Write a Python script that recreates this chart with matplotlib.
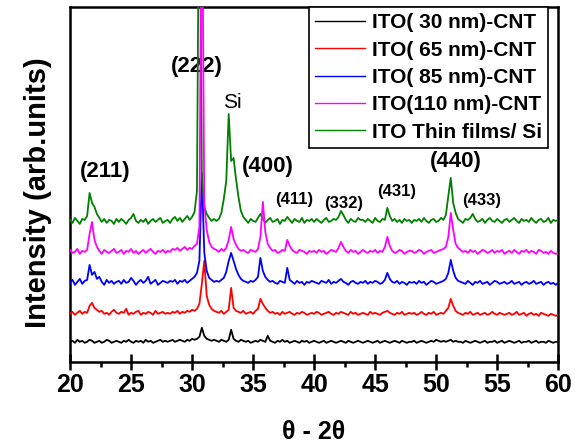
import numpy as np
import matplotlib
matplotlib.use("Agg")
import matplotlib.pyplot as plt
from matplotlib.ticker import MultipleLocator

plt.rcParams['font.family'] = ['Liberation Sans', 'DejaVu Sans']

# 2-theta grid, 0.2 deg steps (201 points)
two_theta = np.linspace(20, 60, 201)

# intensities above each pattern's own baseline (arb. units)
ito_30 = [0, 1, -1, 2, 0, 1, -1, 0, 2, 1, -1, 0, 1, -1, 0, 2, 1, -1, 0, 1,
          0, -1, 1, 0, 2, 0, -1, 1, 0, 1, -1, 2, 0, 1, -1, 0, 1, 2, 0, 1,
          0, 1, 2, 0, 1, 2, 1, 0, 2, 1, 3, 2, 3, 5, 14, 6, 3, 2, 1, 2,
          1, 0, 2, 1, 0, 2, 12, 3, 1, 0, 2, 1, 0, 1, -1, 0, 1, 0, 2, 1,
          0, 6, 1, 0, -1, 1, 0, 2, 0, 1, -1, 0, 1, 0, -1, 1, 0, 1, -1, 0,
          1, 0, -1, 0, 1, -1, 0, 1, 0, -1, 0, 1, 0, -1, 1, 0, -1, 0, 1, 0,
          -1, 0, 1, 0, -1, 0, 1, -1, 0, 1, 0, -1, 0, 1, 0, -1, 1, 0, -1, 0,
          0, 1, -1, 0, 1, 0, -1, 0, 1, 0, 2, 1, 0, 1, 0, 1, 2, 0, 1, 0,
          0, -1, 1, 0, -1, 0, 1, 0, -1, 0, 1, -1, 0, 0, 1, -1, 0, 1, -1, 0,
          1, 0, -1, 0, 1, -1, 0, 0, 1, -1, 0, 1, -1, 0, 0, -1, 1, 0, -1, 0,
          0]
ito_65 = [0, 2, -1, 1, 3, 0, 2, 1, 8, 11, 6, 4, 2, 3, 0, 1, -1, 2, 4, 1,
          0, 2, 1, 5, -1, 1, 0, 2, 3, -1, 1, 0, 2, 1, -1, 3, 0, 1, 2, 0,
          1, 0, 2, 1, 3, 0, 2, 1, 3, 2, 4, 3, 5, 10, 30, 53, 18, 9, 5, 3,
          2, 1, 3, 0, 2, 4, 26, 6, 3, 2, 1, 3, 0, 1, 2, 0, 3, 5, 15, 10,
          6, 3, 1, 2, 0, 1, -1, 2, 0, 1, 2, 0, -1, 1, 0, 2, 1, -1, 0, 1,
          0, 2, 1, -1, 0, 1, 2, 0, -1, 1, 0, 2, 1, 0, -1, 2, 0, 1, -1, 0,
          1, 0, -1, 2, 0, 1, 0, -1, 1, 2, 3, 1, 0, -1, 1, 0, 2, -1, 0, 1,
          0, 1, -1, 0, 2, 0, -1, 1, 0, 2, -1, 0, 1, 0, 3, 6, 15, 8, 3, 1,
          0, -1, 1, 0, 2, -1, 0, 1, -1, 0, 1, -1, 0, 2, 0, -1, 1, 0, -1, 0,
          1, -1, 0, 2, -1, 0, 1, -2, 0, 1, -1, 0, -2, 1, 0, -1, -2, 0, -1, -2,
          -1]
ito_85 = [0, 3, -2, 1, 4, -1, 2, 3, 18, 8, 11, 4, 6, 1, -2, 3, 0, 2, -1, 1,
          2, -1, 3, 0, 1, 5, 2, -2, 1, 3, 0, 2, 6, -1, 1, 3, -2, 0, 2, 1,
          0, 2, 1, 3, -1, 2, 1, 3, 0, 2, 4, 6, 10, 22, 110, 30, 12, 5, 3, 1,
          2, 1, 3, 5, 11, 22, 30, 22, 14, 8, 4, 2, 1, 0, 2, 1, 3, 6, 25, 12,
          6, 3, 1, 2, 0, -1, 2, 1, 0, 15, 3, 1, -1, 2, 0, 1, -2, 1, 0, 2,
          1, 0, -1, 2, 1, 0, 3, -1, 1, 0, 2, 4, 1, 0, -2, 1, 2, 0, -1, 1,
          0, 2, -1, 1, 0, 2, 1, -1, 0, 3, 10, 4, 1, 0, 2, -1, 1, 0, -2, 1,
          0, 1, -1, 2, 0, 1, -2, 0, 2, 1, -1, 0, 1, 2, 4, 10, 23, 12, 5, 2,
          1, 0, -1, 2, 0, -2, 1, 0, 2, -1, 0, 1, -2, 0, 2, 1, -1, 0, 1, -1,
          0, 2, -1, 0, 1, -2, 0, 1, -1, 0, 2, -1, 0, 1, -2, 0, 1, -1, 0, -2,
          0]
ito_110 = [2, -1, 0, 3, -2, 1, 0, 2, 18, 30, 12, 5, 1, -2, 2, 0, -1, 1, 3, -1,
           0, 2, -2, 1, 0, 3, -1, 1, -2, 0, 2, -1, 1, 3, 0, -2, 1, 0, 2, -1,
           1, 0, 3, 2, 4, 1, 3, 5, 2, 4, 3, 6, 8, 25, 400, 48, 22, 10, 5, 3,
           2, 0, 3, 1, 4, 12, 25, 13, 7, 3, 1, 2, 0, -1, 2, 1, 0, 3, 15, 50,
           20, 8, 4, 1, 2, -1, 0, 2, 1, 12, 6, 2, 0, -1, 2, 1, 0, -2, 1, 0,
           1, -1, 2, 0, 1, -2, 0, 2, 1, 0, 4, 10, 5, 1, -1, 2, 0, 1, -2, 0,
           2, 0, -1, 1, 0, 2, -1, 1, 0, 5, 15, 6, 1, -1, 0, 2, 1, -2, 0, 1,
           1, -1, 0, 2, 1, -2, 0, 1, 2, -1, 0, 1, 2, 3, 5, 15, 39, 22, 8, 4,
           2, 0, 1, -1, 2, 0, 1, -2, 0, 2, 1, -1, 0, 2, -1, 1, 0, 2, -2, 0,
           1, -1, 2, 0, -2, 1, 0, 2, -1, 1, 0, -2, 2, 1, -1, 0, -2, 1, -1, -2,
           -1]
ito_si = [1, -2, 3, 0, -3, 2, 1, 5, 28, 18, 14, 7, 3, -1, 2, -2, 1, 0, -3, 2,
          -1, 2, 0, -3, 1, 3, 7, 0, -2, 1, -1, 2, -3, 0, 2, -1, 1, 3, -2, 0,
          1, -2, 2, 4, 0, 3, -1, 2, 5, 1, 4, 9, 30, 400, 45, 14, 7, 3, 0, 2,
          0, 2, 8, 22, 40, 107, 60, 63, 42, 24, 10, 4, 1, -2, 2, 0, -1, 3, 7, 2,
          -2, 1, 3, -1, 0, 2, -3, 1, 0, 4, 1, -2, 2, 0, -1, 3, -2, 1, 0, 2,
          -1, 2, 0, -2, 1, 3, -1, 0, 2, 1, 4, 10, 6, 1, -2, 2, 0, -1, 3, 1,
          1, -1, 2, 0, -2, 3, 0, -1, 2, 1, 13, 5, 0, 2, -1, 1, -2, 2, 0, 1,
          -2, 1, 0, 2, -1, 3, 0, -2, 1, 2, -1, 0, 3, 1, 6, 25, 43, 18, 8, 2,
          0, -2, 2, 1, 3, 7, 2, -1, 0, 2, -2, 1, 3, 0, -1, 2, 0, -2, 1, 2,
          -1, 1, 3, 0, -2, 2, 0, 1, -1, 3, 0, -2, 1, 2, -1, 0, 3, -2, 1, 0,
          1]

series = [ito_30, ito_65, ito_85, ito_110, ito_si]
labels = ['ITO( 30 nm)-CNT', 'ITO( 65 nm)-CNT', 'ITO( 85 nm)-CNT',
          'ITO(110 nm)-CNT', 'ITO Thin films/ Si']
colors = ['black', '#ff0000', '#0000ff', '#ff00ff', '#008000']
offsets = [20, 48, 79, 110, 141]   # vertical stacking
zorders = [2, 3, 4, 6, 5]

# peak labels: text, 2theta, height, fontsize, bold
peaks = [('(211)', 22.9, 190, 16, 'bold'),
         ('(222)', 30.4, 296, 16, 'bold'),
         ('Si', 33.3, 260, 15, 'normal'),
         ('(400)', 36.2, 195, 16, 'bold'),
         ('(440)', 51.6, 200, 16, 'bold'),
         ('(411)', 38.4, 162, 12, 'bold'),
         ('(332)', 42.4, 158, 12, 'bold'),
         ('(431)', 46.8, 170, 12, 'bold'),
         ('(433)', 53.7, 161, 12, 'bold')]

fig = plt.figure(figsize=(5.79, 4.45), dpi=100)
ax = fig.add_axes([0.121, 0.187, 0.843, 0.797])

for y, lab, c, off, z in zip(series, labels, colors, offsets, zorders):
    ax.plot(two_theta, np.array(y) + off, color=c, lw=1.3, label=lab, zorder=z)

for txt, px, py, fs, fw in peaks:
    ax.text(px, py, txt, ha='center', va='center', fontsize=fs, fontweight=fw)

ax.set_xlim(20, 60)
ax.set_ylim(0, 355)
ax.set_yticks([])
ax.xaxis.set_major_locator(MultipleLocator(5))
ax.xaxis.set_minor_locator(MultipleLocator(2.5))
ax.tick_params(axis='x', which='major', direction='inout', length=12, width=1.8,
               labelsize=18, pad=2)
ax.tick_params(axis='x', which='minor', direction='out', length=3.5, width=1.8)
for t in ax.get_xticklabels():
    t.set_fontweight('bold')
for s in ax.spines.values():
    s.set_linewidth(1.8)

leg = ax.legend(loc='upper right', bbox_to_anchor=(0.98, 1.0), borderaxespad=0,
                fancybox=False, edgecolor='black', framealpha=1,
                prop={'weight': 'bold', 'size': 15}, handlelength=2.4,
                handletextpad=0.33, labelspacing=0.4, borderpad=0.3)
leg.get_frame().set_linewidth(1.2)
for h in leg.get_lines():
    h.set_linewidth(1.0)

fig.text(0.066, 0.568, 'Intensity (arb.units)', rotation=90, ha='center',
         va='center', fontsize=21, fontweight='bold')
fig.text(0.542, 0.029, 'θ - 2θ', ha='center', va='center', fontsize=18,
         fontweight='bold')

fig.savefig('out.png', dpi=100)
